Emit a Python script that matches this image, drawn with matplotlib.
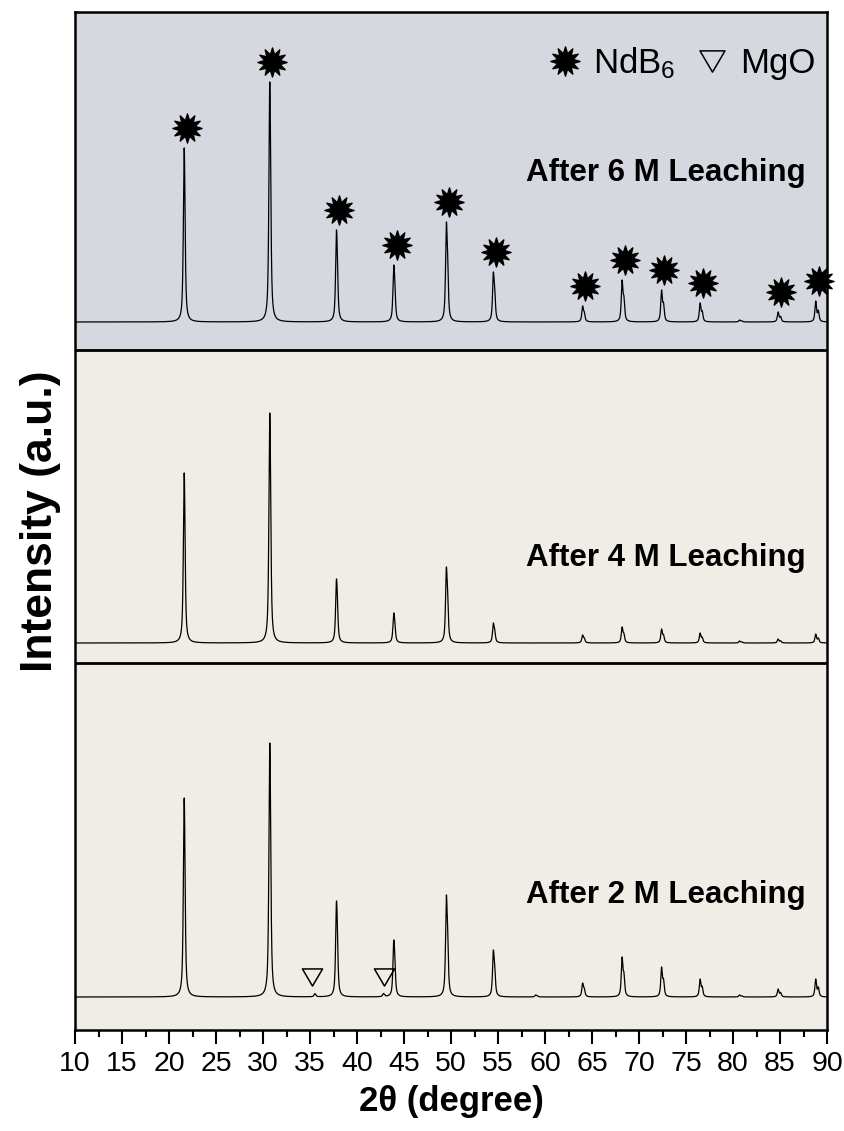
import numpy as np
import matplotlib.pyplot as plt
from matplotlib.path import Path
from matplotlib.lines import Line2D
from matplotlib.ticker import MultipleLocator

plt.rcParams['font.family'] = ['Liberation Sans', 'DejaVu Sans']
plt.rcParams['mathtext.fontset'] = 'custom'
plt.rcParams['mathtext.rm'] = 'Liberation Sans'
plt.rcParams['mathtext.default'] = 'regular'

# NdB6 reflections (2theta in degree) and peak heights (a.u.) per sample
ndb6_pos = [21.6, 30.7, 37.8, 43.9, 49.5, 54.5, 64.0, 68.2, 72.4, 76.5, 84.8, 88.8]
int_6m = [174, 240, 92, 57, 100, 50, 16, 42, 32, 19, 10, 21]
int_4m = [170, 230, 64, 30, 76, 20, 8, 16, 14, 10, 4, 9]
int_2m = [199, 254, 96, 57, 102, 47, 14, 40, 30, 18, 8, 18]

# weak extra reflections
minor_pos_6m = [80.7]
minor_int_6m = [2]
minor_pos_4m = [80.7]
minor_int_4m = [2]
minor_pos_2m = [35.5, 42.8, 59.0, 80.7]
minor_int_2m = [3, 3, 2, 2]

# MgO reflections marked in the 2 M sample
mgo_pos = [35.2, 42.9]

labels = ['After 6 M Leaching', 'After 4 M Leaching', 'After 2 M Leaching']

# vertical layout (a.u.)
offsets = [708, 387, 33]
label_dy = [149, 85, 102]
band_edges = [0, 367, 680, 1018]
band_colors = ['#efede6', '#efede6', '#d6d8e0']

tt = np.arange(10, 90.001, 0.01)


def peak_shape(x, x0, fwhm=0.2, eta=0.75):
    # pseudo-Voigt for Cu Ka1 + Ka2, normalised to unit height
    d2t = np.degrees(2 * np.tan(np.radians(x0 / 2)) * 0.00248)
    out = np.zeros_like(x)
    for pos, w in ((x0, 1.0), (x0 + d2t, 0.5)):
        g = np.exp(-4 * np.log(2) * ((x - pos) / fwhm) ** 2)
        l = 1 / (1 + 4 * ((x - pos) / fwhm) ** 2)
        out += w * (eta * l + (1 - eta) * g)
    return out / out.max()


def pattern(pos, heights):
    y = np.zeros_like(tt)
    for p, h in zip(pos, heights):
        y += h * peak_shape(tt, p)
    return y


def star_marker(n=12, inner=0.55):
    ang = np.linspace(0, 2 * np.pi, 2 * n, endpoint=False) + np.pi / 2
    r = np.where(np.arange(2 * n) % 2 == 0, 1.0, inner)
    verts = np.column_stack([r * np.cos(ang), r * np.sin(ang)])
    verts = np.vstack([verts, verts[:1]])
    codes = [Path.MOVETO] + [Path.LINETO] * (2 * n - 1) + [Path.CLOSEPOLY]
    return Path(verts, codes)


star = star_marker()
tri = Path([(-1, 0.85), (1, 0.85), (0, -0.85), (-1, 0.85)],
           [Path.MOVETO, Path.LINETO, Path.LINETO, Path.CLOSEPOLY])

fig = plt.figure(figsize=(8.45, 11.31), dpi=100)
ax = fig.add_axes([0.0888, 0.0893, 0.8899, 0.9001])

for lo, hi, c in zip(band_edges[:-1], band_edges[1:], band_colors):
    ax.axhspan(lo, hi, color=c, zorder=0)
for edge in band_edges[1:-1]:
    ax.axhline(edge, color='black', lw=2, zorder=1)

series = [
    (ndb6_pos + minor_pos_6m, int_6m + minor_int_6m),
    (ndb6_pos + minor_pos_4m, int_4m + minor_int_4m),
    (ndb6_pos + minor_pos_2m, int_2m + minor_int_2m),
]
for (pos, h), off, lab, dy in zip(series, offsets, labels, label_dy):
    ax.plot(tt, pattern(pos, h) + off, color='black', lw=0.9, zorder=3)
    ax.text(0.972, off + dy, lab, transform=ax.get_yaxis_transform(),
            ha='right', va='center', fontsize=22.5, fontweight='bold')

# phase markers on the top and bottom patterns
ax.plot(np.array(ndb6_pos) + 0.3, np.array(int_6m) + offsets[0] + 20,
        ls='none', marker=star, ms=21, color='black', clip_on=False, zorder=4)
ax.plot(mgo_pos, [offsets[2] + 20.5] * len(mgo_pos), ls='none', marker=tri,
        ms=14.5, mfc='none', mec='black', mew=1.1, zorder=4)

handles = [
    Line2D([], [], ls='none', marker=star, ms=21, color='black'),
    Line2D([], [], ls='none', marker=tri, ms=18, mfc='none', mec='black', mew=1.1),
]
ax.legend(handles, ['NdB$_6$', 'MgO'], loc='upper right', ncol=2,
          bbox_to_anchor=(1.012, 0.988), frameon=False, fontsize=25,
          handlelength=0.9, handletextpad=0.35, columnspacing=0.6,
          borderaxespad=0.2)

ax.set_xlim(10, 90)
ax.set_ylim(band_edges[0], band_edges[-1])
ax.xaxis.set_major_locator(MultipleLocator(5))
ax.xaxis.set_minor_locator(MultipleLocator(2.5))
ax.tick_params(axis='x', which='major', direction='out', length=10, width=1.5,
               labelsize=20.5, pad=5)
ax.tick_params(axis='x', which='minor', direction='out', length=5, width=1.5)
ax.set_yticks([])
for s in ax.spines.values():
    s.set_linewidth(1.8)

ax.set_xlabel('2θ (degree)', fontsize=25, fontweight='bold', labelpad=6)
ax.set_ylabel('Intensity (a.u.)', fontsize=32, fontweight='bold', labelpad=10)

plt.savefig('out.png', dpi=100)
